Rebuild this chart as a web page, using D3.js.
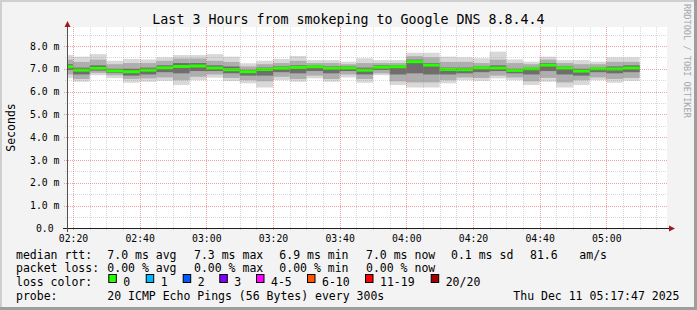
<!DOCTYPE html>
<html>
<head>
<meta charset="utf-8">
<script src="https://cdn.jsdelivr.net/npm/d3@7"></script>
<style>
  body { margin: 0; background: #f3f3f3; }
  text { font-family: "DejaVu Sans Mono", monospace; white-space: pre; }
</style>
</head>
<body>
<svg id="chart" width="697" height="310"></svg>
<script>
// start time of each 5 minute step (UTC, Dec 11 2025)
const barStarts = ["02:15","02:20","02:25","02:30","02:35","02:40","02:45","02:50","02:55",
  "03:00","03:05","03:10","03:15","03:20","03:25","03:30","03:35","03:40","03:45","03:50","03:55",
  "04:00","04:05","04:10","04:15","04:20","04:25","04:30","04:35","04:40","04:45","04:50","04:55",
  "05:00","05:05"];

// median rtt per step (ms)
const medianMs = [7.09,6.94,7.02,6.91,6.87,6.94,7.04,7.10,7.12,7.03,6.96,6.87,6.97,7.02,7.06,7.09,7.02,7.03,
  6.94,7.07,7.09,7.31,7.16,6.97,6.96,7.04,7.03,6.93,7.00,7.16,7.03,6.90,7.00,6.99,7.03];
// smoke: spread of the 20 pings per step (ms)
const pingMin = [6.59,6.43,6.72,6.59,6.39,6.43,6.47,6.29,6.50,6.61,6.46,6.36,6.18,6.50,6.43,6.58,6.43,6.62,
  6.39,6.72,6.29,6.18,6.18,6.36,6.50,6.47,6.58,6.50,6.29,6.43,6.18,6.29,6.50,6.39,6.47];
const pingQ1 = [6.75,6.55,6.82,6.72,6.55,6.58,6.62,6.50,6.65,6.75,6.60,6.50,6.45,6.65,6.55,6.70,6.55,6.75,
  6.55,6.80,6.45,6.40,6.40,6.50,6.62,6.60,6.70,6.62,6.45,6.60,6.40,6.50,6.62,6.55,6.60];
const pingQ2 = [6.95,6.75,6.92,6.82,6.70,6.75,6.85,6.80,6.90,6.90,6.80,6.70,6.70,6.85,6.80,6.90,6.80,6.90,
  6.75,6.95,6.75,6.80,6.75,6.75,6.80,6.85,6.90,6.80,6.75,6.90,6.75,6.70,6.85,6.80,6.85];
const pingQ3 = [7.20,7.05,7.15,7.00,7.00,7.05,7.15,7.25,7.25,7.15,7.10,6.95,7.05,7.10,7.15,7.15,7.10,7.10,
  7.05,7.15,7.15,7.40,7.25,7.05,7.05,7.10,7.15,7.00,7.05,7.25,7.10,7.00,7.05,7.10,7.15];
const pingQ4 = [7.40,7.30,7.40,7.20,7.25,7.25,7.35,7.45,7.45,7.35,7.30,7.10,7.20,7.25,7.35,7.25,7.25,7.20,
  7.25,7.25,7.25,7.55,7.50,7.30,7.30,7.25,7.40,7.25,7.20,7.40,7.25,7.20,7.20,7.30,7.30];
const pingMax = [7.60,7.53,7.64,7.35,7.43,7.41,7.50,7.60,7.60,7.64,7.53,7.24,7.35,7.43,7.56,7.38,7.38,7.31,
  7.46,7.38,7.38,7.70,7.70,7.53,7.50,7.46,7.75,7.41,7.31,7.53,7.38,7.38,7.31,7.50,7.50];

const yTicks = [0, 1, 2, 3, 4, 5, 6, 7, 8];
const lossLabels = ["0", "1", "2", "3", "4-5", "6-10", "11-19", "20/20"];
const lossColors = ["#26ff00", "#00b8ff", "#0059ff", "#7e00ff", "#ff00ff", "#ff5500", "#ff0000", "#a10000"];

const legendRtt = ["7.0 ms avg", "7.3 ms max", "6.9 ms min", "7.0 ms now", "0.1 ms sd", "81.6", "am/s"];
const legendLoss = ["0.00 % avg", "0.00 % max", "0.00 % min", "0.00 % now"];

//-----------------------------------------------------------------------------

const svg = d3.select("#chart");
const W = 697, H = 310;
const parseT = d3.utcParse("%Y-%m-%d %H:%M:%S");
const t0 = parseT("2025-12-11 02:18:12"),
      t1 = parseT("2025-12-11 05:18:12");

const x = d3.scaleUtc().domain([t0, t1]).range([67, 667]);
const y = d3.scaleLinear().domain([0, 8.83]).range([228.5, 27]);

// frame
svg.append("rect").attr("width", W).attr("height", H).attr("fill", "#f3f3f3");
svg.append("path").attr("d", `M0,1H${W}M1,0V${H}`).attr("stroke", "#cfcfcf").attr("stroke-width", 2);
svg.append("path").attr("d", `M0,${H - 1.5}H${W}M${W - 1.5},0V${H}`).attr("stroke", "#9e9e9e").attr("stroke-width", 3);

// canvas
svg.append("rect")
  .attr("x", x.range()[0]).attr("y", y.range()[1])
  .attr("width", x.range()[1] - x.range()[0])
  .attr("height", y.range()[0] - y.range()[1])
  .attr("fill", "#fff");

// smoke + median
const bars = barStarts.map((s, i) => {
  const a = parseT(`2025-12-11 ${s}:00`);
  return {
    a: a < t0 ? t0 : a,
    b: d3.utcMinute.offset(a, 5),
    med: medianMs[i], lo: pingMin[i], q1: pingQ1[i], q2: pingQ2[i],
    q3: pingQ3[i], q4: pingQ4[i], hi: pingMax[i]
  };
});

const layers = [
  {lo: "lo", hi: "hi", color: "#d8d8d8"},
  {lo: "q1", hi: "q4", color: "#aeaeae"},
  {lo: "q2", hi: "q3", color: "#6e6e6e"}
];
const g = svg.append("g");
layers.forEach(L => {
  g.selectAll(null).data(bars).enter().append("rect")
    .attr("x", d => x(d.a))
    .attr("width", d => x(d.b) - x(d.a))
    .attr("y", d => y(d[L.hi]))
    .attr("height", d => y(d[L.lo]) - y(d[L.hi]))
    .attr("fill", L.color);
});
g.selectAll(null).data(bars).enter().append("rect")
  .attr("x", d => x(d.a))
  .attr("width", d => x(d.b) - x(d.a))
  .attr("y", d => y(d.med) - 1.5)
  .attr("height", 3)
  .attr("fill", lossColors[0]);

// grid (drawn over the data, like rrdtool)
const grid = svg.append("g").attr("shape-rendering", "crispEdges");
const minorX = d3.utcMinute.every(5).range(t0, t1).filter(t => t.getUTCMinutes() % 20 !== 0);
const majorX = d3.utcMinute.every(20).range(t0, t1);
grid.selectAll(null).data(minorX).enter().append("line")
  .attr("x1", d => Math.round(x(d)) + 0.5).attr("x2", d => Math.round(x(d)) + 0.5)
  .attr("y1", 27).attr("y2", 230.5)
  .attr("stroke", "#8f8f8f").attr("stroke-opacity", 0.35).attr("stroke-dasharray", "1,1");
const minorY = d3.range(0.5, 8.6, 1);
grid.selectAll(null).data(minorY).enter().append("line")
  .attr("y1", d => Math.round(y(d)) + 0.5).attr("y2", d => Math.round(y(d)) + 0.5)
  .attr("x1", 65).attr("x2", 667)
  .attr("stroke", "#8f8f8f").attr("stroke-opacity", 0.35).attr("stroke-dasharray", "1,1");
grid.selectAll(null).data(majorX).enter().append("line")
  .attr("x1", d => Math.round(x(d)) + 0.5).attr("x2", d => Math.round(x(d)) + 0.5)
  .attr("y1", 27).attr("y2", 231)
  .attr("stroke", "#de4848").attr("stroke-opacity", 0.5).attr("stroke-dasharray", "1,1");
grid.selectAll(null).data(yTicks.filter(v => v > 0)).enter().append("line")
  .attr("y1", d => Math.round(y(d)) + 0.5).attr("y2", d => Math.round(y(d)) + 0.5)
  .attr("x1", 64).attr("x2", 667)
  .attr("stroke", "#de4848").attr("stroke-opacity", 0.5).attr("stroke-dasharray", "1,1");

// axes
svg.append("line").attr("x1", 63).attr("x2", 670).attr("y1", 228.5).attr("y2", 228.5)
  .attr("stroke", "#202020");
svg.append("line").attr("x1", 67.5).attr("x2", 67.5).attr("y1", 25).attr("y2", 232)
  .attr("stroke", "#505050");
svg.append("path").attr("d", "M67.5,21L64.5,27H70.5Z").attr("fill", "#9b1c1c");
svg.append("path").attr("d", "M675,228.5L669,225.5V231.5Z").attr("fill", "#9b1c1c");

// tick labels
svg.append("g").selectAll("text").data(majorX).enter().append("text")
  .attr("x", d => x(d) + 0.5).attr("y", 241.5)
  .attr("text-anchor", "middle").attr("font-size", "9.8px").attr("fill", "#000")
  .text(d3.utcFormat("%H:%M"));
svg.append("g").selectAll("text").data(yTicks).enter().append("text")
  .attr("x", 59.5).attr("y", d => y(d) + 3.6)
  .attr("text-anchor", "end").attr("font-size", "9.8px").attr("fill", "#000")
  .text(d => d === 0 ? "0.0 " : d3.format(".1f")(d) + " m");

// titles
svg.append("text").attr("x", 348.5).attr("y", 23.5).attr("text-anchor", "middle")
  .attr("font-size", "13.3px").text("Last 3 Hours from smokeping to Google DNS 8.8.4.4");
svg.append("text").attr("transform", "translate(14.5,127.5) rotate(-90)")
  .attr("text-anchor", "middle").attr("font-size", "11.5px").text("Seconds");
svg.append("text").attr("transform", "translate(684,4) rotate(90)")
  .attr("font-size", "8.6px").attr("fill", "#a8a8a8").text("RRDTOOL / TOBI OETIKER");

// legend
const leg = svg.append("g").attr("font-size", "11.5px");
const row = [258.5, 272, 286, 299.5];
leg.append("text").attr("x", 16).attr("y", row[0]).text("median rtt:");
const rttX = [107.3, 194, 279.3, 366, 451, 530, 579.3];
legendRtt.forEach((s, i) => leg.append("text").attr("x", rttX[i]).attr("y", row[0]).text(s));
leg.append("text").attr("x", 16).attr("y", row[1]).text("packet loss:");
legendLoss.forEach((s, i) => leg.append("text").attr("x", rttX[i]).attr("y", row[1]).text(s));
leg.append("text").attr("x", 16).attr("y", row[2]).text("loss color:");
const swX = [108.3, 145.7, 182.7, 219.3, 256, 307, 365, 430.7];
lossLabels.forEach((s, i) => {
  leg.append("rect").attr("x", swX[i] + 0.5).attr("y", 274.5).attr("width", 7.5).attr("height", 8)
    .attr("fill", lossColors[i]).attr("stroke", "#000").attr("stroke-width", 1);
  leg.append("text").attr("x", swX[i] + 15).attr("y", row[2]).text(s);
});
leg.append("text").attr("x", 16).attr("y", row[3]).text("probe:");
leg.append("text").attr("x", 107.3).attr("y", row[3]).text("20 ICMP Echo Pings (56 Bytes) every 300s");
leg.append("text").attr("x", 513.3).attr("y", row[3]).text("Thu Dec 11 05:17:47 2025");
</script>
</body>
</html>
